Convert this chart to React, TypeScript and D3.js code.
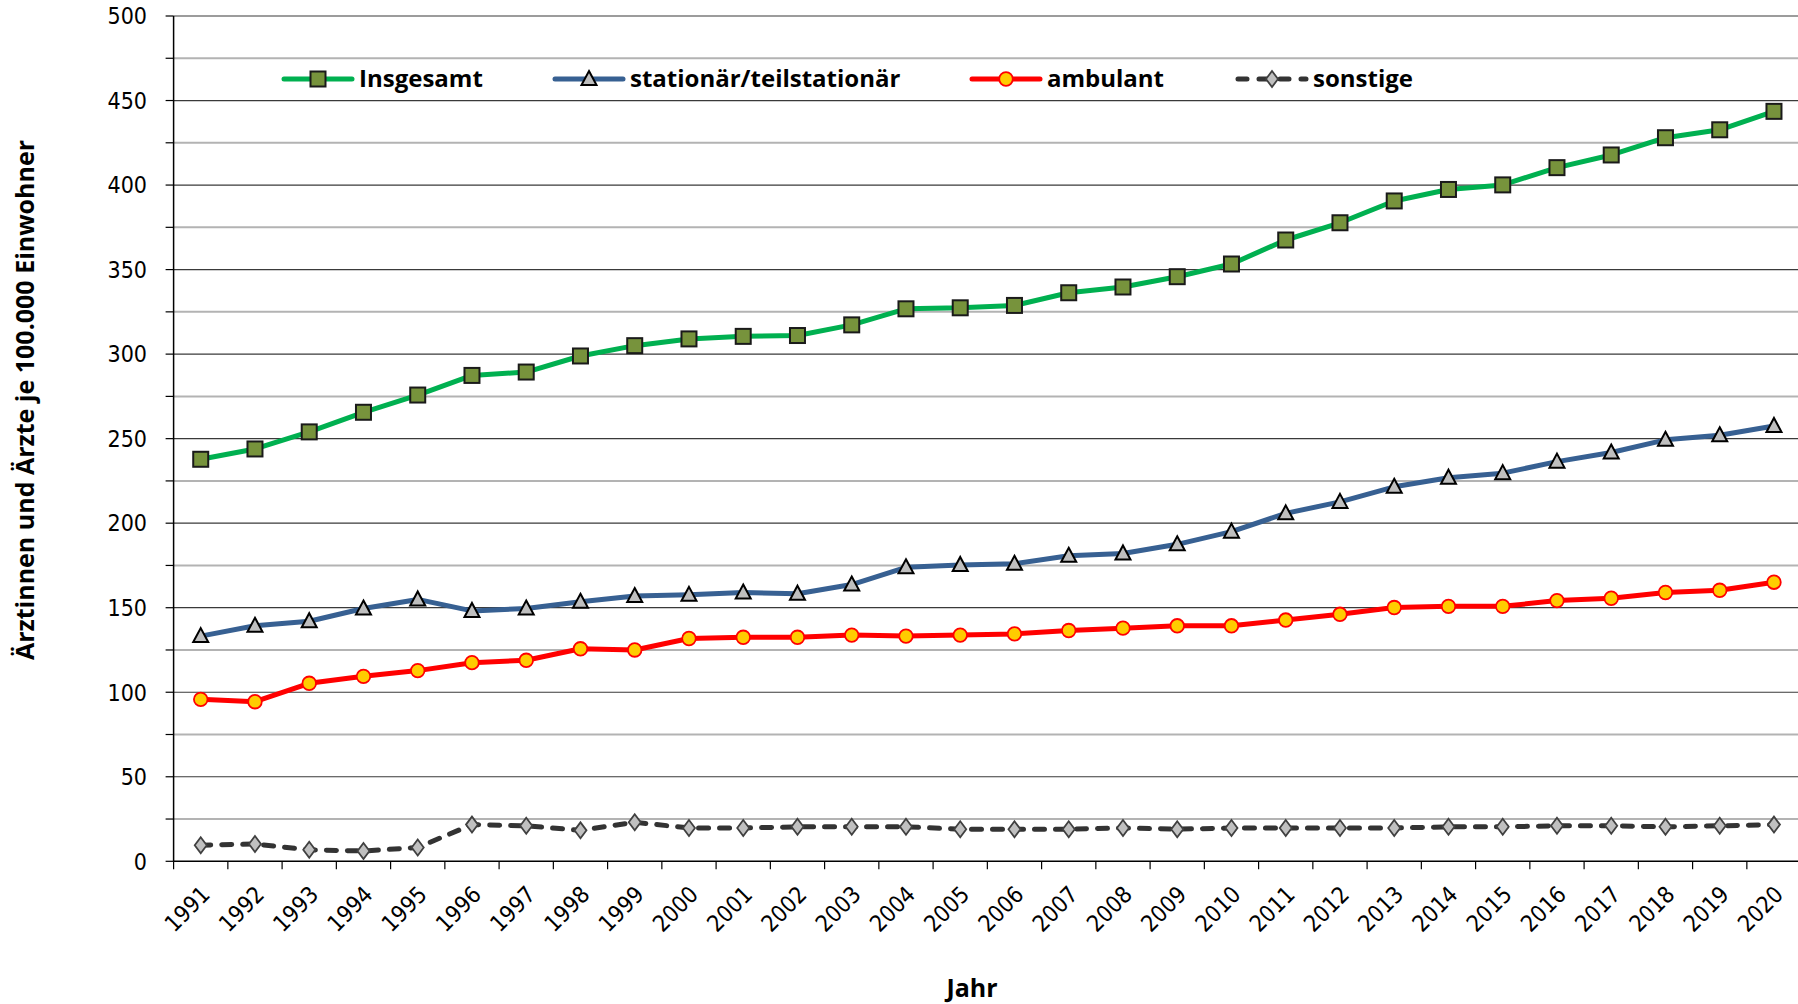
import React from "react";
import * as d3 from "d3";

const years = [
  "1991","1992","1993","1994","1995","1996","1997","1998","1999","2000",
  "2001","2002","2003","2004","2005","2006","2007","2008","2009","2010",
  "2011","2012","2013","2014","2015","2016","2017","2018","2019","2020",
];

const insgesamt = [
  237.8, 243.9, 254.0, 265.6, 275.8, 287.4, 289.4, 298.9, 305.0, 309.0,
  310.5, 311.0, 317.3, 326.8, 327.4, 328.8, 336.3, 339.7, 345.8, 353.3,
  367.5, 377.7, 390.6, 397.4, 400.1, 410.3, 417.8, 428.0, 432.7, 443.6,
];
const stationaer = [
  133.2, 139.3, 142.0, 149.5, 154.9, 148.1, 149.5, 153.5, 156.9, 157.6,
  159.0, 158.3, 163.7, 173.9, 175.3, 176.0, 180.7, 182.1, 187.5, 195.0,
  205.8, 212.6, 221.5, 226.9, 229.6, 236.4, 241.8, 249.3, 252.0, 257.5,
];
const ambulant = [
  95.8, 94.4, 105.3, 109.4, 112.8, 117.5, 118.9, 125.7, 125.0, 131.8,
  132.5, 132.5, 133.8, 133.2, 133.8, 134.5, 136.5, 137.9, 139.3, 139.3,
  142.7, 146.1, 150.1, 150.8, 150.8, 154.2, 155.6, 159.0, 160.3, 165.1,
];
const sonstige = [
  9.5, 10.2, 6.8, 6.1, 8.2, 21.7, 21.0, 18.3, 23.1, 19.7,
  19.7, 20.4, 20.4, 20.4, 19.0, 19.0, 19.0, 19.7, 19.0, 19.7,
  19.7, 19.7, 19.7, 20.4, 20.4, 21.0, 21.0, 20.4, 21.0, 21.7,
];

const yTicks = [0, 50, 100, 150, 200, 250, 300, 350, 400, 450, 500];
const yMinorTicks = [25, 75, 125, 175, 225, 275, 325, 375, 425, 475];

const seriesNames = ["Insgesamt", "stationär/teilstationär", "ambulant", "sonstige"];
const yTitle = "Ärztinnen und Ärzte je 100.000 Einwohner";
const xTitle = "Jahr";

const W = 1798;
const H = 1004;
const FONT = "'Open Sans', sans-serif";
const TICK_FONT = "'DejaVu Sans Condensed', 'DejaVu Sans', sans-serif";

type Shape = "square" | "triangle" | "circle" | "diamond";

function Marker({ shape, x, y }: { shape: Shape; x: number; y: number }) {
  if (shape === "square") {
    return <rect x={x - 7.5} y={y - 7.5} width={15} height={15} fill="#77933C" stroke="#1a1a1a" strokeWidth={2} />;
  }
  if (shape === "triangle") {
    const p = `${x},${y - 8} ${x + 7.5},${y + 6} ${x - 7.5},${y + 6}`;
    return <polygon points={p} fill="#BFBFBF" stroke="#000" strokeWidth={2} strokeLinejoin="miter" />;
  }
  if (shape === "circle") {
    return <circle cx={x} cy={y} r={6.8} fill="#FFCC00" stroke="#FF0000" strokeWidth={1.8} />;
  }
  const p = `${x},${y - 8} ${x + 6},${y} ${x},${y + 8} ${x - 6},${y}`;
  return <polygon points={p} fill="#C0C0C0" stroke="#404040" strokeWidth={1.8} />;
}

export default function App() {
  const x = d3.scaleBand<string>().domain(years).range([173.6, 1801.1]).padding(0);
  const y = d3.scaleLinear().domain([0, 500]).range([861.3, 16]);
  const cx = (yr: string) => (x(yr) as number) + x.bandwidth() / 2;

  const series = [
    { name: seriesNames[0], values: insgesamt, color: "#00B050", shape: "square" as Shape, dash: undefined as string | undefined },
    { name: seriesNames[1], values: stationaer, color: "#376092", shape: "triangle" as Shape, dash: undefined },
    { name: seriesNames[2], values: ambulant, color: "#FF0000", shape: "circle" as Shape, dash: undefined },
    { name: seriesNames[3], values: sonstige, color: "#333333", shape: "diamond" as Shape, dash: "10,11" },
  ];

  const line = d3
    .line<number>()
    .x((_, i) => cx(years[i]))
    .y((v) => y(v));

  const legendX = [284, 555, 972, 1238];
  const legendY = 79;

  const x0 = 173.6;
  const x1 = 1801.1;

  return (
    <svg
      width={W}
      height={H}
      style={{ position: "absolute", left: 0, top: 0, background: "#fff" }}
      fontFamily={FONT}
    >
      <rect x={0} y={0} width={W} height={H} fill="#fff" />
      {yMinorTicks.map((t) => (
        <line key={"mg" + t} x1={x0} x2={x1} y1={y(t)} y2={y(t)} stroke="#B3B3B3" strokeWidth={2} />
      ))}
      {yTicks.filter((t) => t > 0).map((t) => (
        <line key={"g" + t} x1={x0} x2={x1} y1={y(t)} y2={y(t)} stroke="#3a3a3a" strokeWidth={1.2} />
      ))}
      {yTicks.concat(yMinorTicks).map((t) => (
        <line key={"yt" + t} x1={x0 - 8} x2={x0} y1={y(t)} y2={y(t)} stroke="#000" strokeWidth={1.2} />
      ))}
      {yTicks.map((t) => (
        <text key={"yl" + t} x={147} y={y(t)} dy="0.36em" textAnchor="end" fontSize={23} fontFamily={TICK_FONT} fill="#000">
          {t}
        </text>
      ))}
      {years.concat(["end"]).map((yr, i) => {
        const xx = x0 + i * x.bandwidth();
        return <line key={"xt" + i} x1={xx} x2={xx} y1={y(0)} y2={y(0) + 8} stroke="#000" strokeWidth={1.2} />;
      })}
      {years.map((yr) => (
        <text
          key={"xl" + yr}
          transform={`translate(${cx(yr) + 5},${y(0) + 29}) rotate(-45)`}
          textAnchor="end"
          dy="0.35em"
          fontSize={23}
          fontFamily={TICK_FONT}
          fill="#000"
        >
          {yr}
        </text>
      ))}
      <line x1={x0} x2={x0} y1={y(500)} y2={y(0)} stroke="#000" strokeWidth={1.5} />
      <line x1={x0} x2={x1} y1={y(0)} y2={y(0)} stroke="#000" strokeWidth={1.5} />

      {series.map((s) => (
        <path
          key={"l" + s.name}
          d={line(s.values) as string}
          fill="none"
          stroke={s.color}
          strokeWidth={5}
          strokeDasharray={s.dash}
          strokeLinecap={s.dash ? "round" : "butt"}
          strokeLinejoin="round"
        />
      ))}
      {series.map((s) => (
        <g key={"m" + s.name}>
          {s.values.map((v, i) => (
            <Marker key={i} shape={s.shape} x={cx(years[i])} y={y(v)} />
          ))}
        </g>
      ))}

      {series.map((s, i) => (
        <g key={"lg" + s.name}>
          <line
            x1={legendX[i]}
            x2={legendX[i] + 68}
            y1={legendY}
            y2={legendY}
            stroke={s.color}
            strokeWidth={5}
            strokeDasharray={s.dash ? "9,12" : undefined}
            strokeLinecap="round"
          />
          <Marker shape={s.shape} x={legendX[i] + 34} y={legendY} />
          <text x={legendX[i] + 75} y={legendY} dy="0.35em" fontSize={24} fontWeight="bold" fill="#000">
            {s.name}
          </text>
        </g>
      ))}

      <text
        transform={`translate(25,400) rotate(-90)`}
        textAnchor="middle"
        dy="0.35em"
        fontSize={25}
        fontWeight="bold"
        fill="#000"
      >
        {yTitle}
      </text>
      <text x={972} y={997} textAnchor="middle" fontSize={25} fontWeight="bold" fill="#000">
        {xTitle}
      </text>
    </svg>
  );
}
